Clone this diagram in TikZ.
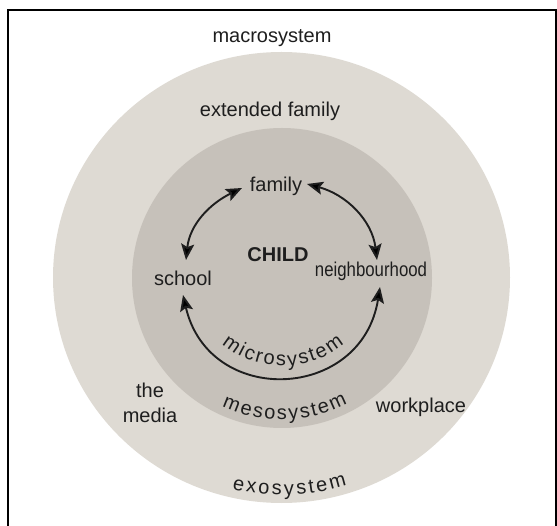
\documentclass[tikz,border=0pt]{standalone}
\usepackage{fontspec}
\usepackage{graphicx}
\setmainfont{Liberation Sans}
\usetikzlibrary{decorations.text, arrows.meta}
\definecolor{outerfill}{RGB}{222,218,211}
\definecolor{innerfill}{RGB}{198,193,186}
\definecolor{ink}{RGB}{30,30,30}
\begin{document}
\begin{tikzpicture}[x=1pt, y=1pt,
  lbl/.style={font=\fontsize{20}{24}\selectfont, text=ink, inner sep=0pt, anchor=base},
  tip/.tip={Stealth[length=16pt,width=13pt,inset=3pt]},
  arr/.style={tip-tip, line width=1.9pt, draw=ink},
  curved/.style={decorate, decoration={text along path, text align={fit to path}, text color=ink}}
]
\useasboundingbox (0,0) rectangle (557,525);
\clip (0,0) rectangle (557,525);
% rings
\fill[outerfill] (281.5,247.5) ellipse [x radius=228.5, y radius=225.5];
\fill[innerfill] (282,247) circle [radius=150];
% frame
\draw[line width=2pt] (8,-5) -- (8,515) -- (556,515) -- (556,-5);
% centres of the curved labels
\coordinate (C) at (282,247);
\coordinate (M) at (283,254);
% labels
\node[lbl] (macro) at (272,482) {macrosystem};
\node[lbl] (ext) at (270,408) {extended family};
\node[lbl] (family) at (276,333) {family};
\node[lbl, font=\fontsize{20}{24}\selectfont\bfseries] (child) at (278,263) {CHILD};
\node[lbl] (school) at (183,239) {school};
\node[lbl] (neigh) at (371,248) {\scalebox{0.84}[1]{neighbourhood}};
\node[lbl] (work) at (421,112) {workplace};
\node[lbl, align=center, font=\fontsize{20}{25}\selectfont] (media) at (150,102) {the\\media};
% curved labels
\path[curved, decoration={text={|\fontsize{20}{24}\selectfont|microsystem}}]
  ([shift={(230:95)}]M) arc[start angle=230, end angle=310, radius=95];
\path[curved, decoration={text={|\fontsize{20}{24}\selectfont|mesosystem}}]
  ([shift={(245:142)}]C) arc[start angle=245, end angle=297.5, radius=142];
\path[curved, decoration={text={|\fontsize{20}{24}\selectfont|exosystem}}]
  ([shift={(256.7:217)}]C) arc[start angle=256.7, end angle=287.4, radius=217];
% arrow ends
\coordinate (fL) at (242,337);
\coordinate (sT) at (186,265);
\coordinate (fR) at (307,341);
\coordinate (nT) at (377,265);
\coordinate (sB) at (183,230);
\coordinate (nB) at (380,238);
% arrows
\draw[arr] (fL) to[out=206, in=84] (sT);
\draw[arr] (fR) to[out=345, in=97] (nT);
\draw[arr] (sB) to[out=283, in=261, looseness=1.5] (nB);
\end{tikzpicture}
\end{document}
